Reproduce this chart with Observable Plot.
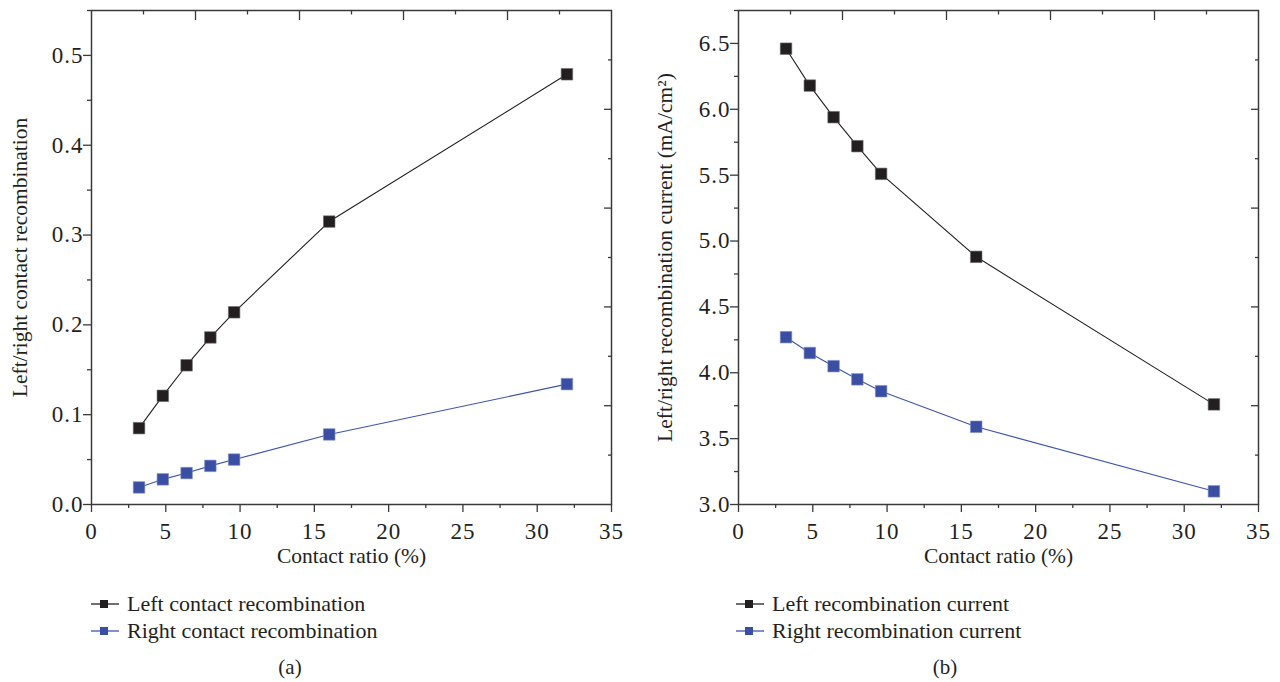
<!DOCTYPE html>
<html>
<head>
<meta charset="utf-8">
<script src="https://cdn.jsdelivr.net/npm/d3@7"></script>
<script src="https://cdn.jsdelivr.net/npm/@observablehq/plot@0.6"></script>
<style>
  html, body { margin: 0; padding: 0; background: #ffffff; }
  #root { position: relative; width: 1280px; height: 682px; overflow: hidden;
          font-family: "Liberation Serif", "Times New Roman", serif; color: #231f20; }
  .panel { position: absolute; top: 0; }
  .legend-row { position: absolute; height: 26px; display: flex; align-items: center;
                font-size: 22px; white-space: nowrap; }
  .legend-row svg { margin-right: 8px; }
  .caption { position: absolute; font-size: 21px; transform: translate(-50%, -50%); }
  .ticklbl text { letter-spacing: 1px; }
</style>
</head>
<body>
<div id="root"></div>
<script>
// ---------------- data ----------------
const contactRatio = [3.2, 4.8, 6.4, 8, 9.6, 16, 32];

const leftContactRecombination  = [0.085, 0.121, 0.155, 0.186, 0.214, 0.315, 0.479];
const rightContactRecombination = [0.019, 0.028, 0.035, 0.043, 0.050, 0.078, 0.134];

const leftRecombinationCurrent  = [6.46, 6.18, 5.94, 5.72, 5.51, 4.88, 3.76];
const rightRecombinationCurrent = [4.27, 4.15, 4.05, 3.95, 3.86, 3.59, 3.10];

const seriesNamesA = ["Left contact recombination", "Right contact recombination"];
const seriesNamesB = ["Left recombination current", "Right recombination current"];
const seriesColors = ["#231f20", "#3a4fa3"];
const lineColors   = ["#231f20", "#3b54ad"];

const xLabel  = "Contact ratio (%)";
const yLabelA = "Left/right contact recombination";
const yLabelB = "Left/right recombination current (mA/cm²)";
const captions = ["(a)", "(b)"];

const xMajorTicks = [0, 5, 10, 15, 20, 25, 30, 35];
const xMinorTicks = [2.5, 7.5, 12.5, 17.5, 22.5, 27.5, 32.5];
const xTopLong  = [7, 14, 21, 28];
const xTopShort = [3.5, 10.5, 17.5, 24.5, 31.5];

const yMajorTicksA = [0, 0.1, 0.2, 0.3, 0.4, 0.5];
const yMinorTicksA = [0.05, 0.15, 0.25, 0.35, 0.45, 0.55];
const yRightLongA  = [0.11, 0.22, 0.33, 0.44];
const yRightShortA = [0.055, 0.165, 0.275, 0.385, 0.495];

const yMajorTicksB = [3.0, 3.5, 4.0, 4.5, 5.0, 5.5, 6.0, 6.5];
const yMinorTicksB = [3.25, 3.75, 4.25, 4.75, 5.25, 5.75, 6.25, 6.75];
const yRightLongB  = [3.75, 4.5, 5.25, 6.0];
const yRightShortB = [3.375, 4.125, 4.875, 5.625, 6.375];

// ---------------- build ----------------
const root = document.getElementById("root");
const axisColor = "#3a3a3a";
const tickFont = 23;
const titleFont = 21.5;

function makePanel(cfg) {
  const rows = [];
  contactRatio.forEach((x, i) => {
    rows.push({x, y: cfg.s1[i], s: 0});
    rows.push({x, y: cfg.s2[i], s: 1});
  });
  const r0 = rows.filter(d => d.s === 0);
  const r1 = rows.filter(d => d.s === 1);
  const blank = () => "";
  return Plot.plot({
    width: 640,
    height: 580,
    marginLeft: cfg.marginLeft,
    marginRight: cfg.marginRight,
    marginTop: 10,
    marginBottom: 76,
    style: {fontFamily: '"Liberation Serif", "Times New Roman", serif', fontSize: tickFont + "px",
            color: "#231f20", background: "transparent", overflow: "visible"},
    x: {domain: [0, 35]},
    y: {domain: cfg.yDomain},
    marks: [
      // bottom axis
      Plot.axisX({ticks: xMajorTicks, tickSize: 8, tickFormat: blank, label: null, stroke: axisColor, strokeWidth: 1.3}),
      Plot.axisX({ticks: xMinorTicks, tickSize: 4, tickFormat: blank, label: null, stroke: axisColor, strokeWidth: 1.3}),
      Plot.axisX({ticks: xMajorTicks, tickSize: 0, tickPadding: 18, tickFormat: d => String(d), label: null, fill: "#231f20", fontSize: tickFont, className: "ticklbl"}),
      // left axis
      Plot.axisY({ticks: cfg.yMajor, tickSize: 8, tickFormat: blank, label: null, stroke: axisColor, strokeWidth: 1.3}),
      Plot.axisY({ticks: cfg.yMinor, tickSize: 4, tickFormat: blank, label: null, stroke: axisColor, strokeWidth: 1.3}),
      Plot.axisY({ticks: cfg.yMajor, tickSize: 0, tickPadding: 8, tickFormat: d3.format(".1f"), label: null, fill: "#231f20", fontSize: tickFont, className: "ticklbl"}),
      // top inward ticks
      Plot.axisX({anchor: "top", ticks: xTopLong, tickSize: 9, dy: 9, tickFormat: blank, label: null, stroke: axisColor, strokeWidth: 1.3}),
      Plot.axisX({anchor: "top", ticks: xTopShort, tickSize: 3.5, dy: 3.5, tickFormat: blank, label: null, stroke: axisColor, strokeWidth: 1.3}),
      // right inward ticks
      Plot.axisY({anchor: "right", ticks: cfg.yRightLong, tickSize: 8, dx: -8, tickFormat: blank, label: null, stroke: axisColor, strokeWidth: 1.3}),
      Plot.axisY({anchor: "right", ticks: cfg.yRightShort, tickSize: 4, dx: -4, tickFormat: blank, label: null, stroke: axisColor, strokeWidth: 1.3}),
      Plot.frame({stroke: axisColor, strokeWidth: 1.5}),
      // data
      Plot.line(r0, {x: "x", y: "y", stroke: lineColors[0], strokeWidth: 1.1}),
      Plot.line(r1, {x: "x", y: "y", stroke: lineColors[1], strokeWidth: 1.1}),
      Plot.dot(r0, {x: "x", y: "y", symbol: "square", r: 6.5, fill: seriesColors[0], stroke: "#6d6a6b", strokeWidth: 0.6}),
      Plot.dot(r1, {x: "x", y: "y", symbol: "square", r: 6.5, fill: seriesColors[1], stroke: "#7f8dc4", strokeWidth: 0.6}),
      // axis titles
      Plot.text([xLabel], {frameAnchor: "bottom", dy: 58, fontSize: titleFont, fill: "#231f20", textAnchor: "middle"}),
      Plot.text([cfg.yLabel], {frameAnchor: "left", rotate: -90, dx: cfg.yLabelDx, fontSize: titleFont, fill: "#231f20", textAnchor: "middle"})
    ]
  });
}

const panelA = makePanel({
  s1: leftContactRecombination, s2: rightContactRecombination,
  yDomain: [0, 0.55], yMajor: yMajorTicksA, yMinor: yMinorTicksA,
  yRightLong: yRightLongA, yRightShort: yRightShortA,
  yLabel: yLabelA, yLabelDx: -71, marginLeft: 91, marginRight: 29
});
panelA.classList.add("panel");
panelA.style.left = "0px";
root.appendChild(panelA);

const panelB = makePanel({
  s1: leftRecombinationCurrent, s2: rightRecombinationCurrent,
  yDomain: [3.0, 6.75], yMajor: yMajorTicksB, yMinor: yMinorTicksB,
  yRightLong: yRightLongB, yRightShort: yRightShortB,
  yLabel: yLabelB, yLabelDx: -73, marginLeft: 98, marginRight: 22
});
panelB.classList.add("panel");
panelB.style.left = "640px";
root.appendChild(panelB);

// legends
function legendRow(left, top, name, idx) {
  const row = document.createElement("div");
  row.className = "legend-row";
  row.style.left = left + "px";
  row.style.top = (top - 13) + "px";
  row.innerHTML =
    `<svg width="28" height="12" viewBox="0 0 28 12">
       <line x1="0" y1="6" x2="28" y2="6" stroke="${lineColors[idx]}" stroke-width="1.3"/>
       <rect x="9" y="2" width="8" height="8" fill="${seriesColors[idx]}"/>
     </svg><span>${name}</span>`;
  root.appendChild(row);
}
legendRow(91, 604, seriesNamesA[0], 0);
legendRow(91, 631, seriesNamesA[1], 1);
legendRow(736, 604, seriesNamesB[0], 0);
legendRow(736, 631, seriesNamesB[1], 1);

function caption(x, y, t) {
  const c = document.createElement("div");
  c.className = "caption";
  c.style.left = x + "px";
  c.style.top = y + "px";
  c.textContent = t;
  root.appendChild(c);
}
caption(290, 667, captions[0]);
caption(945, 667, captions[1]);
</script>
</body>
</html>
